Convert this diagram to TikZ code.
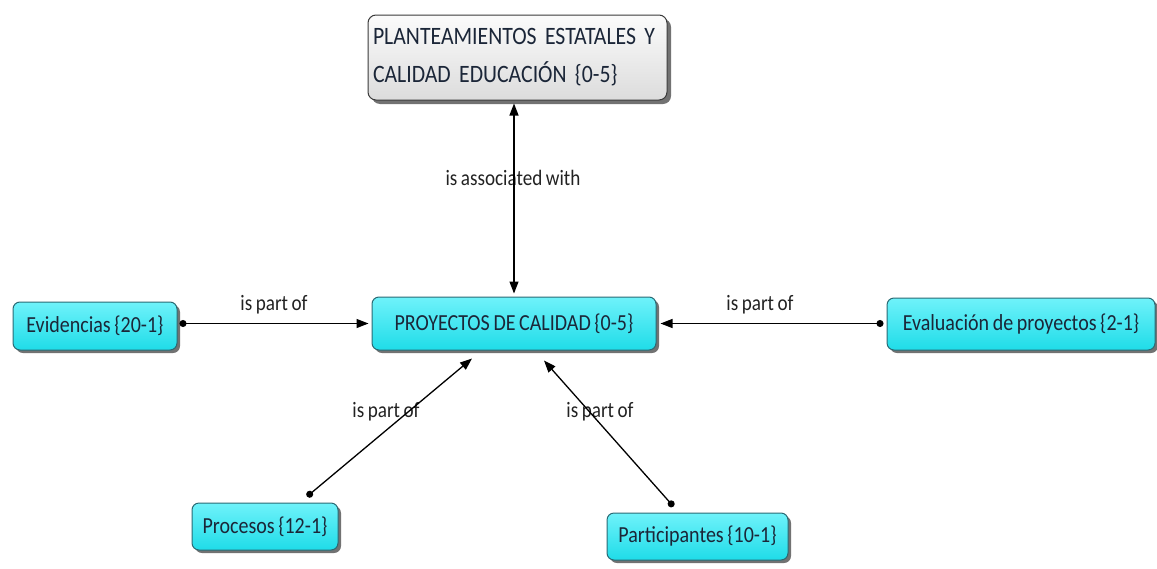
\documentclass[tikz,border=0pt]{standalone}
\usepackage{fontspec}
\setmainfont{Carlito}[FakeStretch=0.87, WordSpace=0.8]
\usetikzlibrary{arrows.meta,shadows}
\definecolor{cyanhi}{HTML}{6FF2FA}
\definecolor{cyanlo}{HTML}{1FDCE8}
\definecolor{cyanedge}{HTML}{2B6A74}
\definecolor{greyhi}{HTML}{FBFBFB}
\definecolor{greylo}{HTML}{DCDCDC}
\definecolor{greyedge}{HTML}{3A3A3A}
\definecolor{nodeink}{HTML}{1B2638}
\definecolor{linkink}{HTML}{222222}
\tikzset{
  concept/.style={draw=cyanedge, line width=1pt, rounded corners=7pt,
    top color=cyanhi, bottom color=cyanlo, text=nodeink,
    font=\fontsize{23}{26}\selectfont, inner sep=0pt,
    drop shadow={shadow xshift=3pt, shadow yshift=-3pt, fill=black!65, opacity=.85}},
  rootbox/.style={draw=greyedge, line width=1pt, rounded corners=8pt,
    top color=greyhi, bottom color=greylo, text=nodeink,
    font=\fontsize{25}{38}\selectfont, inner sep=0pt, align=left,
    drop shadow={shadow xshift=4pt, shadow yshift=-4pt, fill=black!65, opacity=.85}},
  link/.style={draw=black, line width=1.3pt},
  dotstart/.style={{Circle[length=7pt]}-{Triangle[length=12pt,width=9pt]}},
  bothtips/.style={{Triangle[length=12pt,width=9pt]}-{Triangle[length=12pt,width=9pt]}},
  linklabel/.style={text=linkink, font=\fontsize{22}{26}\selectfont, inner sep=0pt}
}
\begin{document}
\begin{tikzpicture}[x=1pt,y=-1pt]
\useasboundingbox (0,0) rectangle (1157,568);

% concepts
\node[rootbox, minimum width=299pt, minimum height=85pt, text width=289pt]
  (root) at (517.5,57.5) {PLANTEAMIENTOS ESTATALES Y\\CALIDAD EDUCACIÓN \{0-5\}};
\node[concept, minimum width=284pt, minimum height=53pt] (proj) at (514,323.5)
  {PROYECTOS DE CALIDAD \{0-5\}};
\node[concept, minimum width=164pt, minimum height=48pt] (evid) at (95,326)
  {Evidencias \{20-1\}};
\node[concept, minimum width=268pt, minimum height=52pt] (eval) at (1021,324)
  {Evaluación de proyectos \{2-1\}};
\node[concept, minimum width=146pt, minimum height=47pt] (proc) at (265,526.5)
  {Procesos \{12-1\}};
\node[concept, minimum width=181pt, minimum height=47pt] (part) at (697.5,536.5)
  {Participantes \{10-1\}};

% labels (placed first so the connectors lie on top)
\node[linklabel] (lassoc) at (513,178) {is associated with};
\node[linklabel] (levid) at (274,305) {is part of};
\node[linklabel] (leval) at (760,305) {is part of};
\node[linklabel] (lproc) at (386,412) {is part of};
\node[linklabel] (lpart) at (600,412) {is part of};

% connectors
\draw[link, bothtips]
  ([yshift=-3pt]root.south -| proj.north) -- ([yshift=3pt]proj.north);
\draw[link, dotstart] ([xshift=2pt]evid.east |- proj.west) -- ([xshift=-3pt]proj.west);
\draw[link, dotstart] ([xshift=-3pt]eval.west |- proj.east) -- ([xshift=4pt]proj.east);
\draw[link, dotstart] ([xshift=42pt,yshift=6pt]proc.north) -- ([xshift=-42pt,yshift=-8pt]proj.south);
\draw[link, dotstart] ([xshift=-24pt,yshift=6pt]part.north) -- ([xshift=30pt,yshift=-10pt]proj.south);
\end{tikzpicture}
\end{document}
